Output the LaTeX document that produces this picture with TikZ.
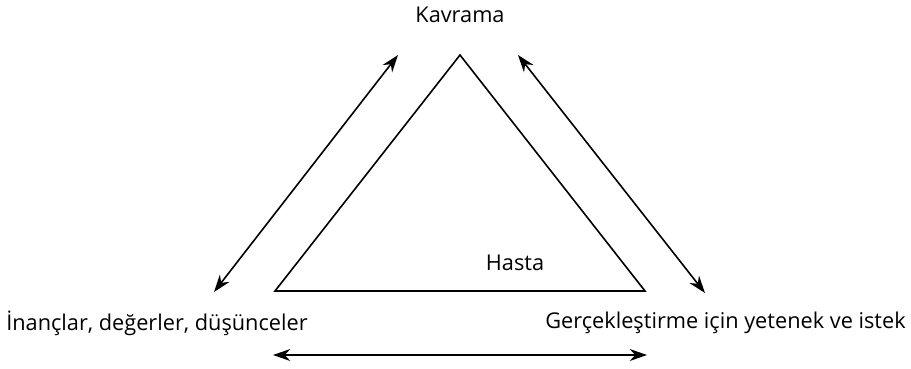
\documentclass[tikz,border=0pt]{standalone}
\usepackage{fontspec}
\setmainfont{Open Sans}
\usetikzlibrary{arrows.meta,positioning}

\begin{document}
\begin{tikzpicture}[
    x=0.75pt, y=-0.75pt,
    lbl/.style={inner sep=0pt, font=\fontsize{16.3}{19}\selectfont},
    tri/.style={line width=1.2pt},
    arr/.style={{Stealth[length=13pt, width=9pt]}-{Stealth[length=13pt, width=9pt]}, line width=1.2pt}
]
\useasboundingbox (0,0) rectangle (911,368);

\node[lbl] (kav) at (460,15) {Kavrama};
\node[lbl] (has) at (515,263) {Hasta};
\node[lbl, anchor=west] (inan) at (6,323) {İnançlar, değerler, düşünceler};
\node[lbl, anchor=east] (gerc) at (906,323) {Gerçekleştirme için yetenek ve istek};

% ucgen
\coordinate (top) at (460,55);
\coordinate (bl) at (275,291);
\coordinate (br) at (645,291);
\draw[tri] (top) -- (bl) -- (br) -- cycle;

% oklar
\coordinate (la) at (398,55);
\coordinate (lb) at (214,292);
\coordinate (ra) at (518,55);
\coordinate (rb) at (705,293);
\coordinate (ba) at (273,355);
\coordinate (bb) at (647,355);
\draw[arr] (la) -- (lb);
\draw[arr] (ra) -- (rb);
\draw[arr] (ba) -- (bb);
\end{tikzpicture}
\end{document}
